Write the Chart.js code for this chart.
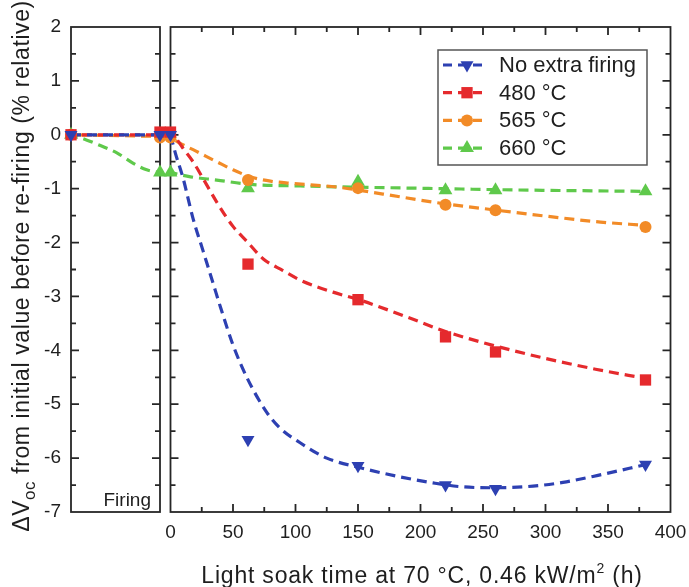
<!DOCTYPE html>
<html>
<head>
<meta charset="utf-8">
<script src="https://cdn.jsdelivr.net/npm/chart.js@4.4.1/dist/chart.umd.min.js"></script>
<style>
  body { margin: 0; background: #fff; }
  #wrap { position: relative; width: 689px; height: 587px; }
  #wrap canvas { position: absolute; left: 0; top: 0; }
</style>
</head>
<body>
<div id="wrap">
  <canvas id="firingChart" width="689" height="587"></canvas>
  <canvas id="soakChart" width="689" height="587"></canvas>
</div>
<script>
// measured points, light soak (h)
const soakHours = [0, 62, 150, 220, 260, 380];
const noExtraFiring = [0, -5.66, -6.14, -6.5, -6.57, -6.12];
const fired480 = [0.05, -2.4, -3.06, -3.75, -4.03, -4.55];
const fired565 = [-0.05, -0.84, -0.99, -1.3, -1.4, -1.71];
const fired660 = [-0.7, -0.99, -0.87, -1.03, -1.03, -1.05];

// fitted trend curves
const noExtraFitHours = [0, 4, 10, 18, 26, 34, 40, 50, 61, 77, 88, 104, 125, 152, 184, 210, 232, 258, 290, 314, 342, 380];
const noExtraFit = [0, -0.35, -0.8, -1.55, -2.15, -2.75, -3.2, -3.9, -4.5, -5.15, -5.45, -5.72, -6.0, -6.18, -6.35, -6.46, -6.53, -6.55, -6.52, -6.45, -6.32, -6.12];
const fit480Hours = [0, 5, 10, 18, 27, 37, 50, 62, 74, 90, 104, 130, 152, 189, 220, 260, 300, 340, 380];
const fit480 = [0.05, -0.08, -0.25, -0.5, -0.85, -1.25, -1.7, -2.0, -2.3, -2.52, -2.7, -2.92, -3.07, -3.38, -3.65, -3.92, -4.15, -4.35, -4.52];
const fit565Hours = [0, 7, 20, 37, 50, 64, 80, 96, 133, 170, 210, 261, 304, 344, 380];
const fit565 = [-0.05, -0.15, -0.3, -0.5, -0.65, -0.78, -0.86, -0.9, -0.97, -1.1, -1.25, -1.4, -1.52, -1.62, -1.68];
const fit660Hours = [0, 16, 37, 64, 104, 144, 218, 264, 380];
const fit660 = [-0.7, -0.78, -0.84, -0.92, -0.95, -0.97, -1.0, -1.02, -1.05];

// firing step (before / after)
const firingSteps = [0, 1];
const firingNoExtra = [0, 0];
const firing480 = [0, 0.05];
const firing565 = [0, -0.05];
const firing660 = [0, -0.7];
const firing660FitSteps = [0, 0.18, 0.33, 0.52, 0.7, 0.85, 1];
const firing660Fit = [0, -0.1, -0.2, -0.34, -0.53, -0.65, -0.7];

const yTicks = { min: -7, max: 2, step: 1 };
const xTicks = { min: 0, max: 400, step: 50 };

const FONT = 'Arial, "Liberation Sans", sans-serif';
const INK = '#1e1e1e';

const series = [
  { label: 'No extra firing', color: '#2d40b2', style: 'triangle', rotation: 180, radius: 7.5, offset: 0 },
  { label: '480 °C', color: '#e52a2d', style: 'rect', rotation: 0, radius: 8, offset: 5 },
  { label: '565 °C', color: '#f28b27', style: 'circle', rotation: 0, radius: 6, offset: 10 },
  { label: '660 °C', color: '#5fc94b', style: 'triangle', rotation: 0, radius: 8, offset: 3 }
];

const pairs = (xs, ys) => xs.map((x, i) => ({ x, y: ys[i] }));

function pointSet(s, xs, ys) {
  return {
    data: pairs(xs, ys), showLine: false, clip: false,
    pointStyle: s.style, rotation: s.rotation, pointRadius: s.radius,
    backgroundColor: s.color, borderColor: s.color, pointBorderWidth: 0
  };
}
function curveSet(s, xs, ys) {
  return {
    data: pairs(xs, ys), showLine: true, pointRadius: 0, clip: false,
    borderColor: s.color, borderWidth: 3.2, borderDash: [10, 6], borderDashOffset: s.offset,
    tension: 0.4, cubicInterpolationMode: 'monotone', order: 10
  };
}

// box with inward ticks on the chosen sides
const frameTicks = {
  id: 'frameTicks',
  beforeDatasetsDraw(chart, args, opts) {
    const { ctx, chartArea: a } = chart;
    ctx.save();
    ctx.strokeStyle = '#262626';
    ctx.lineWidth = 1.8;
    ctx.strokeRect(a.left, a.top, a.right - a.left, a.bottom - a.top);
    ctx.beginPath();
    for (const id of Object.keys(opts.axes || {})) {
      const spec = opts.axes[id];
      const scale = chart.scales[id];
      const n = Math.round((scale.max - scale.min) / spec.minor);
      for (let i = 1; i < n; i++) {
        const v = scale.min + i * spec.minor;
        const major = Math.abs(v / spec.major - Math.round(v / spec.major)) < 1e-6;
        const len = major ? 8 : 5;
        const p = scale.getPixelForValue(v);
        if (scale.isHorizontal()) {
          if (spec.sides.includes('bottom')) { ctx.moveTo(p, a.bottom); ctx.lineTo(p, a.bottom - len); }
          if (spec.sides.includes('top')) { ctx.moveTo(p, a.top); ctx.lineTo(p, a.top + len); }
        } else {
          if (spec.sides.includes('left')) { ctx.moveTo(a.left, p); ctx.lineTo(a.left + len, p); }
          if (spec.sides.includes('right')) { ctx.moveTo(a.right, p); ctx.lineTo(a.right - len, p); }
        }
      }
    }
    ctx.stroke();
    ctx.restore();
  }
};

// text run with sub/superscript pieces, left to right from (x, y)
function drawRuns(ctx, runs, x, y, align) {
  let total = 0;
  runs.forEach(r => { ctx.font = r.size + 'px ' + FONT; total += ctx.measureText(r.text).width; });
  let cx = align === 'center' ? x - total / 2 : x;
  runs.forEach(r => {
    ctx.font = r.size + 'px ' + FONT;
    ctx.fillText(r.text, cx, y + (r.shift || 0));
    cx += ctx.measureText(r.text).width;
  });
}

const firingLabels = {
  id: 'firingLabels',
  afterDraw(chart) {
    const { ctx, chartArea: a } = chart;
    ctx.save();
    ctx.fillStyle = INK;
    ctx.textBaseline = 'alphabetic';
    ctx.font = '19px ' + FONT;
    ctx.textAlign = 'right';
    ctx.fillText('Firing', a.right - 9, a.bottom - 6);
    ctx.textAlign = 'left';
    ctx.translate(29, 266);
    ctx.rotate(-Math.PI / 2);
    ctx.letterSpacing = '0.6px';
    drawRuns(ctx, [
      { text: '\u0394V', size: 23 },
      { text: 'oc', size: 17, shift: 6 },
      { text: ' from initial value before re-firing (% relative)', size: 23 }
    ], 0, 0, 'center');
    ctx.restore();
  }
};

const soakLabels = {
  id: 'soakLabels',
  afterDraw(chart) {
    const { ctx } = chart;
    ctx.save();
    ctx.fillStyle = INK;
    ctx.textAlign = 'left';
    ctx.textBaseline = 'alphabetic';
    ctx.letterSpacing = '0.8px';
    drawRuns(ctx, [
      { text: 'Light soak time at 70 \u00B0C, 0.46 kW/m', size: 23 },
      { text: '2', size: 14, shift: -10 },
      { text: ' (h)', size: 23 }
    ], 422, 583, 'center');
    ctx.letterSpacing = '0px';

    // series key
    const box = { x: 438, y: 50, w: 209, h: 115 };
    ctx.fillStyle = '#fff';
    ctx.fillRect(box.x, box.y, box.w, box.h);
    ctx.strokeStyle = '#555';
    ctx.lineWidth = 1.5;
    ctx.strokeRect(box.x, box.y, box.w, box.h);
    series.forEach((s, i) => {
      const y = 65 + i * 27.7;
      ctx.strokeStyle = s.color;
      ctx.lineWidth = 3.2;
      ctx.setLineDash([9, 6]);
      ctx.beginPath();
      ctx.moveTo(443, y);
      ctx.lineTo(487, y);
      ctx.stroke();
      ctx.setLineDash([]);
      ctx.fillStyle = s.color;
      Chart.helpers.drawPoint(ctx, { pointStyle: s.style, rotation: s.rotation, radius: s.radius, borderWidth: 0 }, 467, y);
      ctx.fillStyle = INK;
      ctx.font = '22px ' + FONT;
      ctx.textBaseline = 'middle';
      ctx.fillText(s.label, 499, y + 1);
    });
    ctx.restore();
  }
};

const firingFits = [
  pairs(firingSteps, firingNoExtra),
  pairs(firingSteps, [0, 0]),
  pairs(firingSteps, [0, -0.03]),
  pairs(firing660FitSteps, firing660Fit)
];
const firingPoints = [firingNoExtra, firing480, firing565, firing660];

new Chart(document.getElementById('firingChart'), {
  type: 'scatter',
  data: {
    datasets: [
      ...series.map((s, i) => pointSet(s, firingSteps, firingPoints[i])),
      ...series.map((s, i) => Object.assign(curveSet(s, [], []), { data: firingFits[i] }))
    ]
  },
  options: {
    responsive: false,
    animation: false,
    layout: { padding: { left: 0, right: 529, top: 27, bottom: 75 } },
    plugins: {
      legend: { display: false },
      tooltip: { enabled: false },
      frameTicks: { axes: { y: { major: 1, minor: 0.5, sides: ['left', 'right'] } } }
    },
    scales: {
      x: { type: 'linear', min: 0, max: 1, display: false },
      y: {
        type: 'linear', min: yTicks.min, max: yTicks.max,
        ticks: { stepSize: yTicks.step, padding: 10, color: INK, font: { family: FONT, size: 19 } },
        grid: { display: false, drawTicks: false }, border: { display: false },
        afterFit(scale) { scale.width = 71; }
      }
    }
  },
  plugins: [frameTicks, firingLabels]
});

const soakPoints = [noExtraFiring, fired480, fired565, fired660];
const soakFits = [[noExtraFitHours, noExtraFit], [fit480Hours, fit480], [fit565Hours, fit565], [fit660Hours, fit660]];

new Chart(document.getElementById('soakChart'), {
  type: 'scatter',
  data: {
    datasets: [
      ...series.map((s, i) => pointSet(s, soakHours, soakPoints[i])),
      ...series.map((s, i) => curveSet(s, soakFits[i][0], soakFits[i][1]))
    ]
  },
  options: {
    responsive: false,
    animation: false,
    layout: { padding: { left: 170.5, right: 18.5, top: 27, bottom: 0 } },
    plugins: {
      legend: { display: false },
      tooltip: { enabled: false },
      frameTicks: {
        axes: {
          x: { major: 50, minor: 25, sides: ['bottom', 'top'] },
          y: { major: 1, minor: 0.5, sides: ['left', 'right'] }
        }
      }
    },
    scales: {
      x: {
        type: 'linear', min: xTicks.min, max: xTicks.max,
        ticks: { stepSize: xTicks.step, padding: 9, maxRotation: 0, color: INK, font: { family: FONT, size: 19 } },
        grid: { display: false, drawTicks: false }, border: { display: false },
        afterFit(scale) {
          scale.height = 75;
          scale.paddingLeft = 0;
          scale.paddingRight = 0;
        }
      },
      y: { type: 'linear', min: yTicks.min, max: yTicks.max, display: false }
    }
  },
  plugins: [frameTicks, soakLabels]
});
</script>
</body>
</html>
